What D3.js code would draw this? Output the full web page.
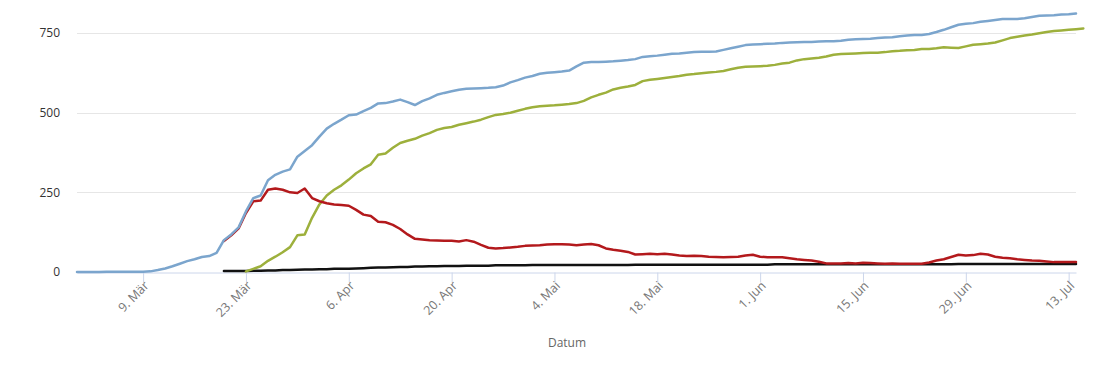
<!DOCTYPE html>
<html><head><meta charset="utf-8">
<script src="https://cdn.jsdelivr.net/npm/d3@7"></script>
<style>
html,body{margin:0;padding:0;background:#fff;}
svg{display:block;font-family:"Open Sans",sans-serif;}
</style></head>
<body><svg id="c" width="1110" height="370"></svg>
<script>
// ---- data ----
const startDate = "2020-02-29";           // day 0
const tickDates = ["2020-03-09","2020-03-23","2020-04-06","2020-04-20","2020-05-04","2020-05-18","2020-06-01","2020-06-15","2020-06-29","2020-07-13"];
const tickLabels = ["9. Mär","23. Mär","6. Apr","20. Apr","4. Mai","18. Mai","1. Jun","15. Jun","29. Jun","13. Jul"];
const yTicks = [0, 250, 500, 750];
const xTitle = "Datum";

// total cases, from day 0
const casesStart = 0;
const cases = [0,0,0,0,1,1,1,1,1,1,2,6,11,18,26,34,40,47,50,60,
  100,118,140,190,232,240,288,305,315,322,362,380,398,425,450,465,478,492,494,505,
  515,529,530,535,541,533,524,536,545,556,562,567,572,575,576,577,578,580,585,595,
  602,610,615,622,625,627,629,632,645,657,659,659,660,661,663,665,668,675,677,679,
  682,685,686,688,690,691,691,692,697,702,707,712,714,715,716,717,719,720,721,722,
  722,723,724,724,726,729,730,731,732,734,736,737,740,742,744,744,747,753,760,768,
  776,779,781,785,788,791,794,794,794,796,800,804,805,806,808,809,811];

// recovered, from day 23
const recoveredStart = 23;
const recovered = [2,10,18,35,48,62,78,115,118,170,212,240,258,272,290,310,325,338,368,372,
  390,405,412,418,428,436,446,452,455,462,467,472,478,486,493,496,500,506,512,517,
  520,522,523,525,527,530,537,548,556,563,573,578,582,587,599,603,606,609,612,615,
  619,621,624,626,628,631,636,641,644,645,646,647,650,654,657,664,668,670,672,676,
  682,684,685,686,687,688,688,690,693,694,696,697,700,700,702,705,704,703,708,713,
  715,717,720,727,734,738,742,745,749,753,756,758,760,762,764];

// active cases, from day 20
const activeStart = 20;
const active = [97,115,137,185,222,224,258,262,258,250,248,262,232,222,216,212,210,208,195,180,
  176,158,156,148,135,118,104,102,100,99,98,98,96,100,95,85,76,74,75,77,
  79,82,83,84,86,87,87,86,84,86,88,84,74,70,67,63,55,56,57,56,
  57,55,52,50,51,50,48,47,46,47,48,52,54,48,46,46,46,43,40,38,
  36,32,27,27,27,28,27,29,28,27,26,27,26,26,26,26,30,36,40,47,
  54,52,53,57,55,48,45,43,40,38,36,35,33,31,31,31,31];

// deaths, from day 20
const deathsStart = 20;
const deaths = [3,3,3,3,4,4,5,5,6,6,7,8,8,9,9,10,10,10,11,12,
  13,14,14,15,16,16,17,17,18,18,19,19,19,20,20,20,20,21,21,21,
  21,21,22,22,22,22,22,22,22,22,22,22,22,22,22,22,23,23,23,23,
  23,23,23,23,23,23,23,23,23,23,23,23,23,23,23,24,24,24,24,24,
  24,24,24,24,24,24,24,24,24,24,24,24,24,24,24,24,24,24,24,24,
  25,25,25,25,25,25,25,25,25,25,25,25,25,25,25,25,25];

const seriesColors = {cases:"#7ba5cd", recovered:"#9db03c", active:"#b3191c", deaths:"#111111"};

// ---- chart ----
const svg = d3.select("#c");
const parse = d3.timeParse("%Y-%m-%d");
const d0 = parse(startDate);
const x = d3.scaleTime().domain([d0, d3.timeDay.offset(d0, 136)]).range([77, 1076]);
const y = d3.scaleLinear().domain([0, 750]).range([272, 33]);

// gridlines
svg.append("g").selectAll("line").data(yTicks.filter(d=>d>0)).join("line")
  .attr("x1", 77).attr("x2", 1076)
  .attr("y1", d=>Math.round(y(d))+0.5).attr("y2", d=>Math.round(y(d))+0.5)
  .attr("stroke", "#e6e6e6").attr("stroke-width", 1);

// y axis labels
const yAxis = d3.axisLeft(y).tickValues(yTicks).tickSize(0).tickPadding(0);
const gy = svg.append("g").attr("transform","translate(60,0)").call(yAxis);
gy.select(".domain").remove();
gy.selectAll("text").attr("font-size", 12).attr("fill", "#333").attr("font-family","Open Sans, sans-serif");

// x axis
const tickDateObjs = tickDates.map(parse);
const xAxis = d3.axisBottom(x).tickValues(tickDateObjs)
  .tickFormat((d,i)=>tickLabels[i]).tickSize(10).tickSizeOuter(0);
const gx = svg.append("g").attr("transform","translate(0,272.5)").call(xAxis);
gx.select(".domain").attr("stroke", "#ccd6eb");
gx.selectAll(".tick line").attr("stroke", "#ccd6eb");
gx.selectAll("text")
  .attr("font-size", 12.5).attr("fill", "#777").attr("font-family","Open Sans, sans-serif")
  .attr("text-anchor","end").attr("dy", null).attr("y", 0).attr("x", 0)
  .attr("transform","translate(6,14) rotate(-45)");

svg.append("text").attr("x", 567).attr("y", 347).attr("text-anchor","middle")
  .attr("font-size", 12).attr("fill", "#666").text(xTitle);

// lines
function drawSeries(values, start, color, width){
  const pts = values.map((v,i)=>({d: d3.timeDay.offset(d0, start+i), v}));
  const line = d3.line().x(p=>x(p.d)).y(p=>y(p.v));
  svg.append("path").datum(pts).attr("d", line)
    .attr("fill","none").attr("stroke", color).attr("stroke-width", width)
    .attr("stroke-linejoin","round").attr("stroke-linecap","round");
}
drawSeries(deaths, deathsStart, seriesColors.deaths, 2.5);
drawSeries(recovered, recoveredStart, seriesColors.recovered, 2.5);
drawSeries(active, activeStart, seriesColors.active, 2.5);
drawSeries(cases, casesStart, seriesColors.cases, 2.5);
</script></body></html>
